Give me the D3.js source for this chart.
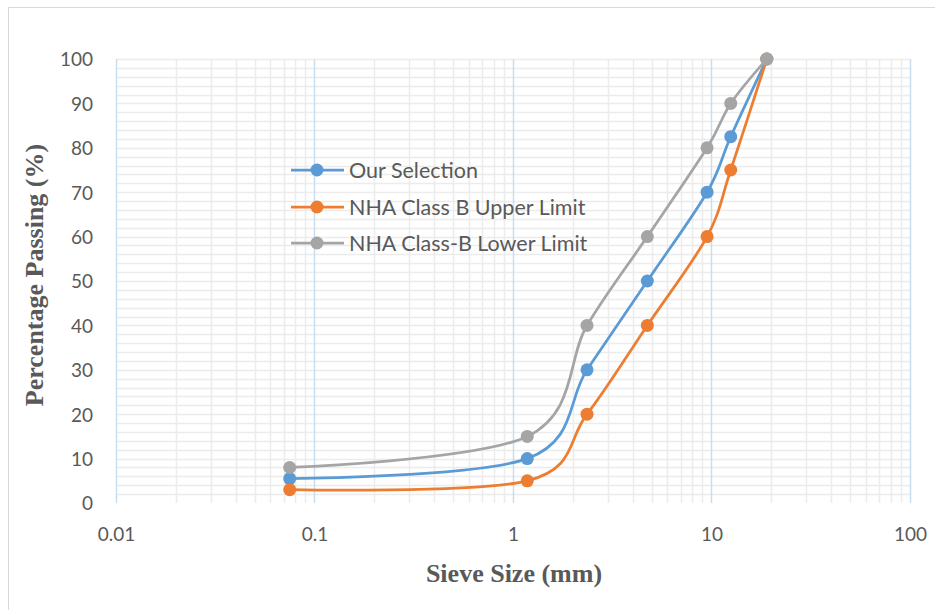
<!DOCTYPE html>
<html>
<head>
<meta charset="utf-8">
<script src="https://cdn.jsdelivr.net/npm/d3@7"></script>
<style>
  html, body { margin: 0; padding: 0; background: #fff; }
  svg { display: block; }
</style>
</head>
<body>
<div id="chart"></div>
<script>
// Sieve sizes (mm) and percentage passing for each gradation curve
const sieveSizes   = [0.075, 1.18, 2.36, 4.75, 9.5, 12.5, 19];
const ourSelection = [5.5, 10, 30, 50, 70, 82.5, 100];
const upperLimit   = [3, 5, 20, 40, 60, 75, 100];
const lowerLimit   = [8, 15, 40, 60, 80, 90, 100];

const seriesNames  = ["Our Selection", "NHA Class B Upper Limit", "NHA Class-B Lower Limit"];
const seriesColors = ["#5B9BD5", "#ED7D31", "#A5A5A5"];

const xTickValues = [0.01, 0.1, 1, 10, 100];
const xTickLabels = ["0.01", "0.1", "1", "10", "100"];
const yTickValues = [0, 10, 20, 30, 40, 50, 60, 70, 80, 90, 100];

const W = 935, H = 610;
const plot = { left: 116, right: 910, top: 59, bottom: 503 };

const svg = d3.select("#chart").append("svg")
  .attr("width", W).attr("height", H);

// chart area frame
svg.append("rect")
  .attr("x", 8.5).attr("y", 7.5)
  .attr("width", W + 10).attr("height", H + 10)
  .attr("fill", "#fff").attr("stroke", "#d9d9d9").attr("stroke-width", 1);

const x = d3.scaleLog().domain([0.01, 100]).range([plot.left, plot.right]);
const y = d3.scaleLinear().domain([0, 100]).range([plot.bottom, plot.top]);

const grid = svg.append("g");

// horizontal gridlines every 2 %
const hLines = d3.range(2, 101, 2);
grid.selectAll("line.h").data(hLines).join("line")
  .attr("class", "h")
  .attr("x1", plot.left).attr("x2", plot.right)
  .attr("y1", d => Math.round(y(d)) + 0.5).attr("y2", d => Math.round(y(d)) + 0.5)
  .attr("stroke", "#ececec").attr("stroke-width", 1.5);

// minor vertical gridlines (2..9 within each decade)
const minorX = [];
[0.01, 0.1, 1, 10].forEach(dec => { for (let k = 2; k <= 9; k++) minorX.push(dec * k); });
grid.selectAll("line.vm").data(minorX).join("line")
  .attr("class", "vm")
  .attr("y1", plot.top).attr("y2", plot.bottom)
  .attr("x1", d => Math.round(x(d)) + 0.5).attr("x2", d => Math.round(x(d)) + 0.5)
  .attr("stroke", "#ececec").attr("stroke-width", 1.5);

// major vertical gridlines at each decade
grid.selectAll("line.vM").data(xTickValues).join("line")
  .attr("class", "vM")
  .attr("y1", plot.top).attr("y2", plot.bottom)
  .attr("x1", d => Math.round(x(d)) + 0.5).attr("x2", d => Math.round(x(d)) + 0.5)
  .attr("stroke", "#c9ddf0").attr("stroke-width", 1.5);

// axes (labels only)
const yAxis = svg.append("g")
  .attr("transform", `translate(${plot.left - 23},0)`)
  .call(d3.axisLeft(y).tickValues(yTickValues).tickSize(0).tickPadding(0));
yAxis.select(".domain").remove();
yAxis.selectAll("text")
  .attr("font-family", "Lato, 'Open Sans', sans-serif").attr("font-size", 19)
  .attr("fill", "#595959").attr("dy", "0.36em");

const xAxis = svg.append("g")
  .attr("transform", `translate(0,${plot.bottom + 24})`)
  .call(d3.axisBottom(x).tickValues(xTickValues).tickFormat((d, i) => xTickLabels[i]).tickSize(0).tickPadding(0));
xAxis.select(".domain").remove();
xAxis.selectAll("text")
  .attr("font-family", "Lato, 'Open Sans', sans-serif").attr("font-size", 19)
  .attr("fill", "#595959").attr("dy", "0.72em");

// axis titles
svg.append("text")
  .attr("x", 514).attr("y", 582)
  .attr("text-anchor", "middle")
  .attr("font-family", "'Liberation Serif', 'Times New Roman', serif")
  .attr("font-weight", "bold").attr("font-size", 26)
  .attr("fill", "#595959")
  .text("Sieve Size (mm)");

svg.append("text")
  .attr("transform", "translate(43,275) rotate(-90)")
  .attr("text-anchor", "middle")
  .attr("font-family", "'Liberation Serif', 'Times New Roman', serif")
  .attr("font-weight", "bold").attr("font-size", 26)
  .attr("fill", "#595959")
  .text("Percentage Passing (%)");

// gradation curves
const seriesValues = [ourSelection, upperLimit, lowerLimit];
const line = d3.line()
  .x(d => x(d[0])).y(d => y(d[1]))
  .curve(d3.curveCardinal.tension(0));

seriesValues.forEach((vals, i) => {
  const pts = sieveSizes.map((s, j) => [s, vals[j]]);
  const g = svg.append("g");
  g.append("path")
    .attr("d", line(pts))
    .attr("fill", "none")
    .attr("stroke", seriesColors[i])
    .attr("stroke-width", 2.75)
    .attr("stroke-linejoin", "round");
  g.selectAll("circle").data(pts).join("circle")
    .attr("cx", d => x(d[0])).attr("cy", d => y(d[1]))
    .attr("r", 6.5)
    .attr("fill", seriesColors[i]);
});

// legend
const legend = svg.append("g");
const legendRowsY = [170, 207, 243];
seriesNames.forEach((name, i) => {
  const ly = legendRowsY[i];
  legend.append("line")
    .attr("x1", 291).attr("x2", 344).attr("y1", ly).attr("y2", ly)
    .attr("stroke", seriesColors[i]).attr("stroke-width", 2.75);
  legend.append("circle")
    .attr("cx", 317).attr("cy", ly).attr("r", 6.5)
    .attr("fill", seriesColors[i]);
  legend.append("text")
    .attr("x", 349).attr("y", ly).attr("dy", "0.36em")
    .attr("font-family", "Lato, 'Open Sans', sans-serif").attr("font-size", 21.5)
    .attr("fill", "#595959")
    .text(name);
});
</script>
</body>
</html>
